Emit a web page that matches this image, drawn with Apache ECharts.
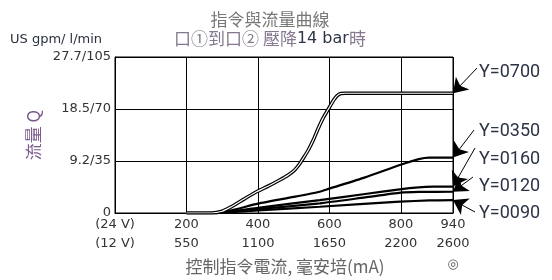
<!DOCTYPE html>
<html><head><meta charset="utf-8">
<script src="https://cdn.jsdelivr.net/npm/echarts@6/dist/echarts.min.js"></script>
<style>html,body{margin:0;padding:0;background:#fff}#c{width:552px;height:280px}</style>
</head><body><div id="c"></div>
<script>
// ---- data (x: command current mA @24V, y: flow l/min) ----
const xTickValues = [0, 200, 400, 600, 800, 946];
const xTickLabels24 = ['(24 V)', '200', '400', '600', '800', '940'];
const xTickLabels12 = ['(12 V)', '550', '1100', '1650', '2200', '2600'];
const yTickValues = [0, 35, 70, 105];
const yTickLabels = ['0', '9.2/35', '18.5/70', '27.7/105'];
const seriesNames = ['Y=0700', 'Y=0350', 'Y=0160', 'Y=0120', 'Y=0090'];
const y0700 = [[200,0],[270,0],[300,1.2],[322,3.8],[360,9.2],[396,14.3],[430,18.2],[461,22.2],[485,25.6],[503,29],[518,33.5],[530,38],[541,42.4],[555,49.1],[568,56.5],[582,63.7],[601,71.5],[612,76],[622,79],[632,80.4],[645,80.6],[946,80.6]];
const y0350 = [[200,0],[270,0],[320,1.5],[400,6.3],[500,10.8],[573,14.3],[600,16.4],[700,24],[797,32.3],[850,36.3],[880,37.3],[946,37.3]];
const y0160 = [[200,0],[270,0],[320,1.0],[400,3.5],[573,8.7],[700,12.8],[797,15.9],[850,17.2],[890,17.7],[946,17.8]];
const y0120 = [[200,0],[270,0],[320,0.8],[400,2.6],[573,6.5],[700,10.5],[800,13.7],[850,14.2],[946,14.3]];
const y0090 = [[200,0],[270,0],[320,0.5],[400,1.8],[573,4.2],[797,7.6],[880,8.5],[946,8.7]];
const curveData = [y0700, y0350, y0160, y0120, y0090];
// label anchor positions (annotation layout)
const labelPos = [[479,72],[479,131],[479,159],[479,186],[479,213]];
const arrowStart = [[477,68],[474,130],[475,148],[473,177],[475,212]];

const chart = echarts.init(document.getElementById('c'), null, {renderer:'canvas'});
const FONT = 'DejaVu Sans';
const CJK = 'Noto Sans CJK TC';

const series = [];
curveData.forEach((d, i) => {
  const last = d[d.length - 1];
  series.push({
    name: seriesNames[i], type: 'line', data: d, showSymbol: false,
    smooth: 0.2,
    lineStyle: { color: '#000', width: i === 0 ? 3.6 : 2.2 },
    z: 3,
    markLine: {
      silent: true, animation: false,
      symbol: ['none', 'arrow'], symbolSize: 14,
      label: { show: false },
      lineStyle: { color: '#000', width: 1, type: 'solid' },
      data: [[{ x: arrowStart[i][0], y: arrowStart[i][1] }, { coord: [last[0], last[1]] }]]
    }
  });
});
// inner white stroke for the double-line 0700 curve
series.push({
  type: 'line', data: y0700, showSymbol: false, smooth: 0.2,
  lineStyle: { color: '#fff', width: 1.2 }, z: 4
});

const graphics = [
  { type: 'text', x: 270, y: 20, style: { text: '指令與流量曲線', font: '17px "' + CJK + '"', fill: '#777', textAlign: 'center', textVerticalAlign: 'middle' } },
  { type: 'text', x: 270, y: 39, style: {
      text: '{a|口①到口② 壓降}{b|14 bar}{a|時}', textAlign: 'center', textVerticalAlign: 'middle',
      rich: { a: { fontFamily: CJK, fontSize: 17, fill: '#857890' }, b: { fontFamily: FONT, fontSize: 16, fill: '#2e3548' } } } },
  { type: 'text', x: 10, y: 40, style: { text: 'US gpm/ l/min', font: '13px "' + FONT + '"', fill: '#2a3040', textVerticalAlign: 'middle' } },
  { type: 'text', x: 285, y: 267, style: { text: '控制指令電流, 毫安培(mA)', font: '17px "' + CJK + '"', fill: '#666', textAlign: 'center', textVerticalAlign: 'middle' } },
  { type: 'text', x: 453, y: 265, style: { text: '◎', font: '13px "' + FONT + '"', fill: '#555', textAlign: 'center', textVerticalAlign: 'middle' } }
];
seriesNames.forEach((n, i) => {
  graphics.push({ type: 'text', x: labelPos[i][0], y: labelPos[i][1], style: { text: n, font: '18px Roboto', fill: '#2b3345', textVerticalAlign: 'middle' } });
});

const xLab = (arr) => (v) => { const k = xTickValues.indexOf(v); return k >= 0 ? arr[k] : ''; };

chart.setOption({
  animation: false,
  grid: { left: 115, right: 99, top: 57, bottom: 67, show: true, borderColor: '#000', borderWidth: 1, backgroundColor: 'transparent' },
  xAxis: [{
    type: 'value', min: 0, max: 946, interval: 200,
    axisLine: { lineStyle: { color: '#000', width: 1 } }, axisTick: { show: false },
    splitLine: { show: true, lineStyle: { color: '#000', width: 1 } },
    axisLabel: { customValues: xTickValues, formatter: xLab(xTickLabels24), color: '#333', fontFamily: FONT, fontSize: 13, margin: 5 }
  }, {
    type: 'value', min: 0, max: 946, interval: 200, position: 'bottom', offset: 19,
    axisLine: { show: false }, axisTick: { show: false }, splitLine: { show: false },
    axisLabel: { customValues: xTickValues, formatter: xLab(xTickLabels12), color: '#333', fontFamily: FONT, fontSize: 13, margin: 5 }
  }],
  yAxis: {
    type: 'value', min: 0, max: 105, interval: 35,
    name: '流量 Q', nameLocation: 'middle', nameRotate: 90, nameGap: 67,
    nameTextStyle: { color: '#7a5a8e', fontFamily: CJK, fontSize: 17 },
    axisLine: { show: true, lineStyle: { color: '#000', width: 1 } }, axisTick: { show: false },
    splitLine: { show: true, lineStyle: { color: '#000', width: 1 } },
    axisLabel: { formatter: (v) => { const k = yTickValues.indexOf(v); return k >= 0 ? yTickLabels[k] : ''; }, color: '#333', fontFamily: FONT, fontSize: 13, margin: 4 }
  },
  series: series,
  graphic: graphics
});
</script></body></html>
